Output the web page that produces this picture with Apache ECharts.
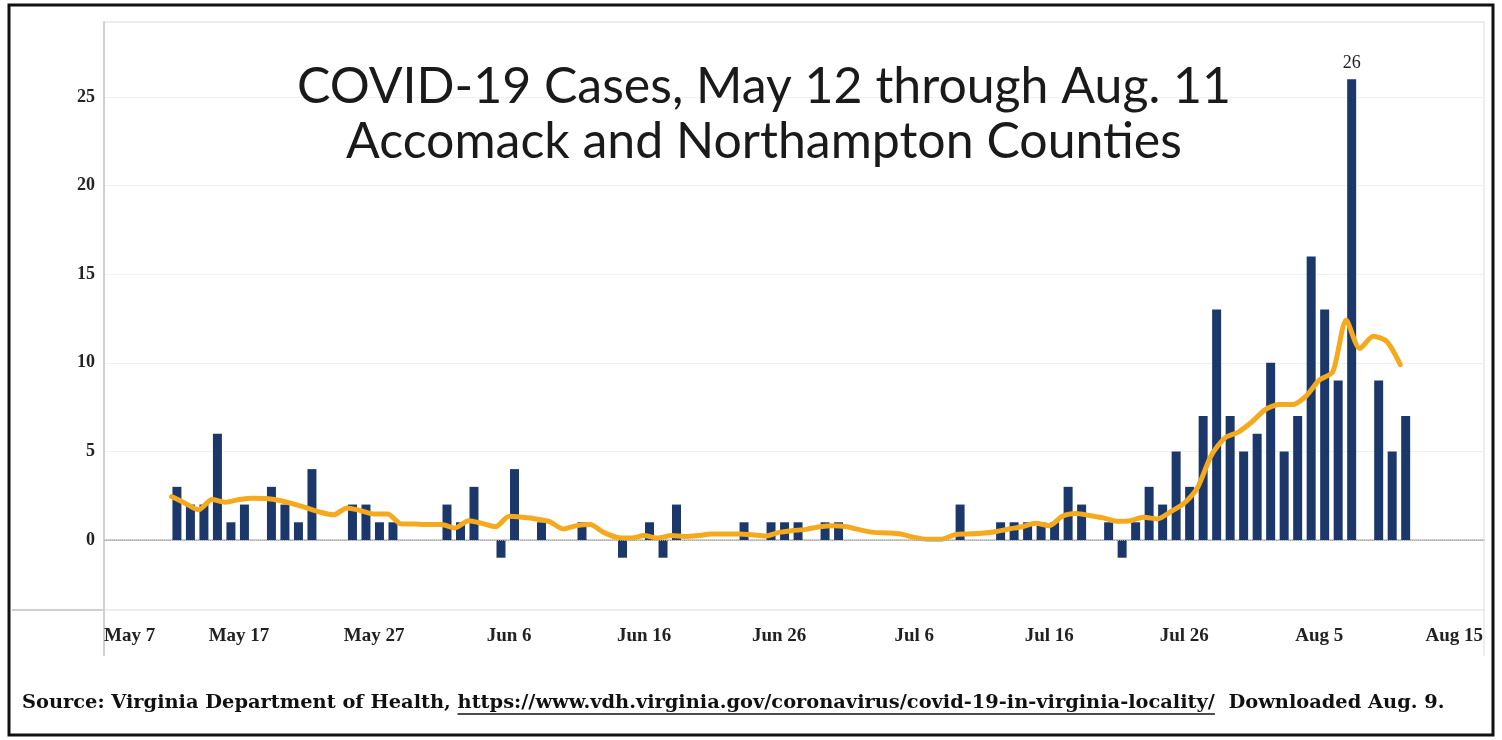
<!DOCTYPE html>
<html>
<head>
<meta charset="utf-8">
<script src="https://cdn.jsdelivr.net/npm/echarts@6/dist/echarts.min.js"></script>
<style>
html,body{margin:0;padding:0;background:#fff;}
#chart{width:1502px;height:740px;}
</style>
</head>
<body>
<div id="chart"></div>
<script>
// ---- data ----
const xTickLabels = ['May 7','May 17','May 27','Jun 6','Jun 16','Jun 26','Jul 6','Jul 16','Jul 26','Aug 5','Aug 15'];
const yTickValues = [0, 5, 10, 15, 20, 25];
const firstDay = 5; // May 12, counted in days from May 7
const dailyCases = [
  3, 2, 2, 6, 1, 2, 0, 3, 2, 1, 4, 0, 0, 2, 2, 1, 1,      // May 12 - May 28
  0, 0, 0, 2, 1, 3, 0, -1, 4, 0, 1, 0, 0, 1, 0, 0, -1,    // May 29 - Jun 14
  0, 1, -1, 2, 0, 0, 0, 0, 1, 0, 1, 1, 1, 0, 1, 1,        // Jun 15 - Jun 30
  0, 0, 0, 0, 0, 0, 0, 0, 2, 0, 0, 1, 1, 1, 1, 1,         // Jul 1 - Jul 16
  3, 2, 0, 1, -1, 1, 3, 2, 5, 3, 7, 13, 7, 5, 6, 10,      // Jul 17 - Aug 1
  5, 7, 16, 13, 9, 26, 0, 9, 5, 7                         // Aug 2 - Aug 11
];
const movingAvg = [
  2.45, 2.08, 1.7, 2.28, 2.13, 2.28, 2.36, 2.34, 2.23, 2.04, 1.81, 1.57, 1.42, 1.81, 1.66, 1.47, 1.47,
  0.91, 0.9, 0.87, 0.87, 0.68, 1.09, 0.94, 0.75, 1.34, 1.28, 1.19, 1.04, 0.62, 0.81, 0.87, 0.43,
  0.15, 0.11, 0.25, 0.11, 0.25, 0.2, 0.25, 0.34, 0.34, 0.34, 0.3, 0.23, 0.43, 0.53, 0.6, 0.75,
  0.81, 0.75, 0.57, 0.43, 0.4, 0.34, 0.15, 0.04, 0.04, 0.3, 0.34, 0.38, 0.47, 0.62, 0.75, 0.94,
  0.81, 1.35, 1.5, 1.38, 1.25, 1.06, 1.09, 1.28, 1.19, 1.6, 2.08, 2.98, 4.77, 5.75, 6.09, 6.66,
  7.36, 7.64, 7.64, 8.11, 9.02, 9.49, 12.4, 10.8, 11.5, 11.2, 9.9
];
const titleLines = ['COVID-19 Cases, May 12 through Aug. 11', 'Accomack and Northampton Counties'];
const sourcePrefix = 'Source: Virginia Department of Health, ';
const sourceUrl = 'https://www.vdh.virginia.gov/coronavirus/covid-19-in-virginia-locality/';
const sourceSuffix = '  Downloaded Aug. 9.';

// ---- build ----
const maxVal = Math.max(...dailyCases);
const barData = dailyCases.map((v, i) => {
  const item = { value: [firstDay + i, v] };
  if (v === maxVal) item.label = { show: true };
  return item;
});
const lineData = movingAvg.map((v, i) => [firstDay + i, v]);

const srcFont = 'bold 19.4px "DejaVu Serif"';
const mctx = document.createElement('canvas').getContext('2d');
mctx.font = srcFont;
const w1 = mctx.measureText(sourcePrefix).width;
const w2 = mctx.measureText(sourceUrl).width;
const srcX = 22, srcY = 703;

const chart = echarts.init(document.getElementById('chart'), null, { renderer: 'canvas' });
const serif = '"Liberation Serif", "Times New Roman", serif';
chart.setOption({
  animation: false,
  backgroundColor: '#fff',
  title: {
    text: titleLines.join('\n'),
    left: 759,
    top: 54,
    textAlign: 'center',
    textStyle: { fontFamily: 'Lato', fontSize: 50, fontWeight: 'normal', color: '#1a1a1a', lineHeight: 55 }
  },
  grid: { left: 104, top: 22, right: 18, bottom: 130, show: true, borderColor: '#dcdcdc', borderWidth: 1 },
  xAxis: [
    {
      type: 'value', min: 0, max: 102.2, interval: 10,
      axisLine: { show: true, lineStyle: { color: '#cfcfcf', width: 2 } },
      axisTick: { show: false },
      splitLine: { show: false },
      axisLabel: {
        margin: 17, color: '#222', fontFamily: serif, fontSize: 19, fontWeight: 'bold',
        alignMinLabel: 'left',
        formatter: v => (Math.abs(v / 10 - Math.round(v / 10)) < 1e-6 ? (xTickLabels[Math.round(v / 10)] || '') : '')
      }
    },
    {
      // hidden day axis for the bars (bars sit slightly right of the day tick, as in the source)
      type: 'value', min: -0.4, max: 101.8, position: 'bottom', show: false
    }
  ],
  yAxis: {
    type: 'value', min: -3.95, max: 29.23,
    axisLine: { show: true, lineStyle: { color: '#cfcfcf', width: 2 } },
    axisTick: { show: false, customValues: yTickValues },
    splitLine: { show: true, lineStyle: { color: '#f0f0f0', width: 1 } },
    axisLabel: { customValues: yTickValues, margin: 9, color: '#222', fontFamily: serif, fontSize: 18, fontWeight: 'bold' }
  },
  series: [
    {
      type: 'bar', data: barData, barWidth: 9, xAxisIndex: 1,
      itemStyle: { color: '#1c386b' },
      label: { show: false, position: 'top', distance: 6, color: '#222', fontFamily: serif, fontSize: 18, backgroundColor: '#fff', padding: [1, 2] },
      markLine: {
        silent: true, symbol: 'none', label: { show: false },
        lineStyle: { color: '#aaaaaa', type: 'dotted', width: 1 },
        data: [{ yAxis: 0 }]
      },
      z: 2
    },
    {
      type: 'line', data: lineData, symbol: 'none', smooth: 0.25, xAxisIndex: 0,
      lineStyle: { color: '#f5a91d', width: 5, cap: 'round', join: 'round' },
      z: 3
    }
  ],
  graphic: [
    { type: 'rect', shape: { x: 9, y: 5, width: 1484, height: 730 }, style: { fill: 'none', stroke: '#111', lineWidth: 3 }, silent: true },
    { type: 'line', shape: { x1: 12, y1: 610, x2: 104, y2: 610 }, style: { stroke: '#cfcfcf', lineWidth: 2 }, silent: true },
    { type: 'line', shape: { x1: 104, y1: 610, x2: 104, y2: 656 }, style: { stroke: '#cfcfcf', lineWidth: 2 }, silent: true },
    { type: 'line', shape: { x1: 1484, y1: 610, x2: 1484, y2: 656 }, style: { stroke: '#dcdcdc', lineWidth: 1 }, silent: true },
    { type: 'text', x: srcX, y: srcY, style: { text: sourcePrefix, font: srcFont, fill: '#111', verticalAlign: 'middle' } },
    { type: 'text', x: srcX + w1, y: srcY, style: { text: sourceUrl, font: srcFont, fill: '#111', verticalAlign: 'middle' } },
    { type: 'line', shape: { x1: srcX + w1, y1: srcY + 11, x2: srcX + w1 + w2, y2: srcY + 11 }, style: { stroke: '#111', lineWidth: 1.5 }, silent: true },
    { type: 'text', x: srcX + w1 + w2, y: srcY, style: { text: sourceSuffix, font: srcFont, fill: '#111', verticalAlign: 'middle' } }
  ]
});
</script>
</body>
</html>
